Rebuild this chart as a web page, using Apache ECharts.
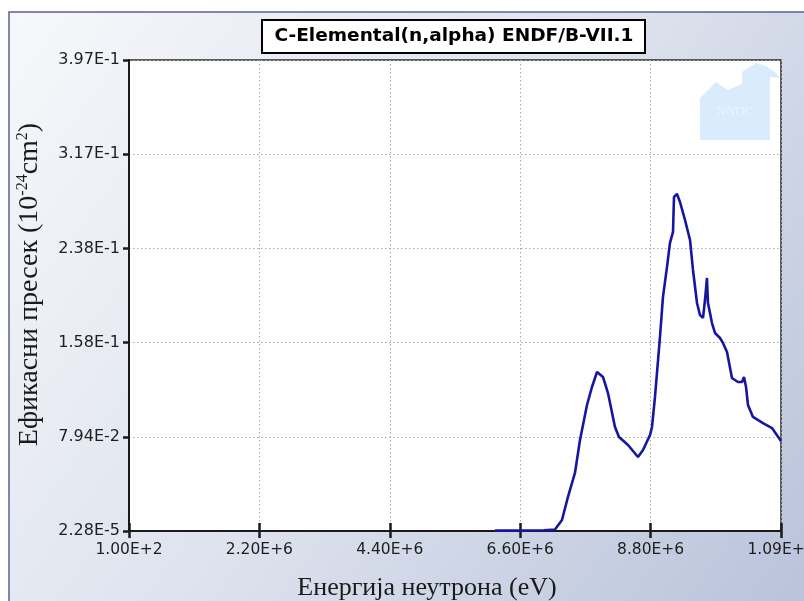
<!DOCTYPE html>
<html>
<head>
<meta charset="utf-8">
<script src="https://cdn.jsdelivr.net/npm/echarts@6/dist/echarts.min.js"></script>
<style>
  html, body { margin: 0; padding: 0; background: #ffffff; }
  #chart { width: 804px; height: 601px; }
</style>
</head>
<body>
<div id="chart"></div>
<script>
// C-Elemental (n,alpha) cross section, ENDF/B-VII.1
const chartTitle = 'C-Elemental(n,alpha) ENDF/B-VII.1';
const xAxisTitle = 'Енергија неутрона (eV)';

// Tick labels as printed on the axes
const xTickLabels = ['1.00E+2', '2.20E+6', '4.40E+6', '6.60E+6', '8.80E+6', '1.09E+7'];
const yTickLabels = ['2.28E-5', '7.94E-2', '1.58E-1', '2.38E-1', '3.17E-1', '3.97E-1'];

// Neutron energy (eV)
const energy = [
  6.175e6, 6.60e6, 7.00e6, 7.187e6, 7.305e6, 7.406e6, 7.524e6, 7.609e6, 7.727e6, 7.811e6,
  7.896e6, 7.997e6, 8.081e6, 8.199e6, 8.267e6, 8.419e6, 8.587e6, 8.672e6, 8.790e6, 8.824e6,
  8.874e6, 8.958e6, 9.009e6, 9.077e6, 9.127e6, 9.178e6, 9.195e6, 9.245e6, 9.296e6, 9.380e6,
  9.465e6, 9.515e6, 9.583e6, 9.633e6, 9.684e6, 9.718e6, 9.751e6, 9.768e6, 9.836e6, 9.886e6,
  9.971e6, 10.021e6, 10.089e6, 10.173e6, 10.274e6, 10.342e6, 10.376e6, 10.410e6, 10.443e6,
  10.527e6, 10.696e6, 10.848e6, 11.0e6
];
// Cross section (barn)
const crossSection = [
  0.0003, 0.0004, 0.0006, 0.0012, 0.0093, 0.0287, 0.0489, 0.0767, 0.1062, 0.1214,
  0.1340, 0.1298, 0.1163, 0.0877, 0.0792, 0.0725, 0.0624, 0.0683, 0.0809, 0.0877,
  0.1130, 0.1635, 0.1973, 0.2226, 0.2428, 0.2521, 0.2816, 0.2841, 0.2773, 0.2622,
  0.2453, 0.2200, 0.1922, 0.1821, 0.1796, 0.1947, 0.2133, 0.1922, 0.1753, 0.1669,
  0.1627, 0.1585, 0.1509, 0.1290, 0.1256, 0.1256, 0.1298, 0.1214, 0.1062,
  0.0961, 0.0910, 0.0868, 0.0759
];

const X_STEP = 2.2e6;
const Y_STEP = 0.0794;

const chart = echarts.init(document.getElementById('chart'), null, { renderer: 'canvas' });

const labelColor = '#1e1e1e';

const option = {
  animation: false,
  backgroundColor: '#ffffff',
  graphic: [
    {
      type: 'rect', z: -10, silent: true,
      shape: { x: 9, y: 12, width: 800, height: 600 },
      style: {
        fill: new echarts.graphic.LinearGradient(0, 0, 1, 1, [
          { offset: 0, color: '#f7f8fb' },
          { offset: 0.5, color: '#dde2ed' },
          { offset: 1, color: '#b8c2da' }
        ]),
        stroke: '#5d6090', lineWidth: 1.5
      }
    },
    {
      // NNDC watermark
      type: 'group', z: 1, silent: true,
      children: [
        {
          type: 'polygon',
          shape: { points: [[700, 140], [700, 98], [716, 82], [728, 90], [742, 84], [742, 72],
                            [756, 63], [766, 66], [776, 73], [780, 78], [770, 77], [770, 140]] },
          style: { fill: '#d9ebfc' }
        },
        {
          type: 'text', x: 735, y: 112,
          style: { text: 'NNDC', fill: '#eef5fd', font: '13px "Liberation Serif"', align: 'center', verticalAlign: 'middle' }
        }
      ]
    },
    {
      type: 'group', z: 20,
      children: [
        {
          type: 'rect',
          shape: { x: 262, y: 20, width: 383, height: 33 },
          style: { fill: '#ffffff', stroke: '#000000', lineWidth: 2 }
        },
        {
          type: 'text', x: 454, y: 37, scaleX: 1.09,
          style: { text: chartTitle, fill: '#000000', font: 'bold 17px "DejaVu Sans"', align: 'center', verticalAlign: 'middle' }
        }
      ]
    }
  ],
  grid: {
    left: 129, right: 23, top: 60, bottom: 70,
    outerBoundsMode: 'none',
    show: true, backgroundColor: '#ffffff', borderColor: '#2a2a2a', borderWidth: 1.5
  },
  xAxis: [
    {
      type: 'value', min: 0, max: 5 * X_STEP, interval: X_STEP,
      name: xAxisTitle, nameLocation: 'middle', nameGap: 44,
      nameTextStyle: { fontFamily: 'Liberation Serif', fontSize: 26, color: '#1a1a1a', padding: [0, 56, 0, 0] },
      axisLine: { show: true, lineStyle: { color: '#1a1a1a', width: 2 } },
      axisTick: { show: true, inside: false, length: 7, lineStyle: { color: '#1a1a1a', width: 2.5 } },
      axisLabel: {
        margin: 11, fontFamily: 'DejaVu Sans', fontSize: 15.5, color: labelColor,
        formatter: v => xTickLabels[Math.round(v / X_STEP)] ?? ''
      },
      splitLine: { show: true, lineStyle: { color: '#a8a8a8', type: [1.5, 2.5], width: 1 } }
    },
    {
      type: 'value', min: 0, max: 5 * X_STEP, interval: X_STEP, position: 'bottom',
      axisLine: { show: false },
      axisTick: { show: true, inside: true, length: 8, lineStyle: { color: '#1a1a1a', width: 2.5 } },
      axisLabel: { show: false },
      splitLine: { show: false }
    }
  ],
  yAxis: {
    type: 'value', min: 0, max: 0.397, interval: Y_STEP,
    name: '{n|Ефикасни пресек (10}{s|-24}{n|cm}{s|2}{n|)}',
    nameLocation: 'middle', nameGap: 84,
    nameTextStyle: {
      fontFamily: 'Liberation Serif', fontSize: 28, color: '#1a1a1a', padding: [0, 0, 0, 22],
      rich: {
        n: { fontFamily: 'Liberation Serif', fontSize: 28, color: '#1a1a1a', lineHeight: 30 },
        s: { fontFamily: 'Liberation Serif', fontSize: 16, color: '#1a1a1a', verticalAlign: 'top', lineHeight: 30, padding: [0, 0, 10, 0] }
      }
    },
    axisLine: { show: true, lineStyle: { color: '#1a1a1a', width: 2 } },
    axisTick: { show: true, inside: false, length: 6, lineStyle: { color: '#1a1a1a', width: 2.5 } },
    axisLabel: {
      margin: 9, fontFamily: 'DejaVu Sans', fontSize: 16, color: labelColor,
      formatter: v => yTickLabels[Math.round(v / Y_STEP)] ?? ''
    },
    splitLine: { show: true, lineStyle: { color: '#a8a8a8', type: [1.5, 2.5], width: 1 } }
  },
  series: [
    {
      type: 'line', xAxisIndex: 0, z: 5,
      data: energy.map((e, i) => [e, crossSection[i]]),
      showSymbol: false, smooth: false,
      lineStyle: { color: '#1616a0', width: 2.6 }
    }
  ]
};

chart.setOption(option);
</script>
</body>
</html>
